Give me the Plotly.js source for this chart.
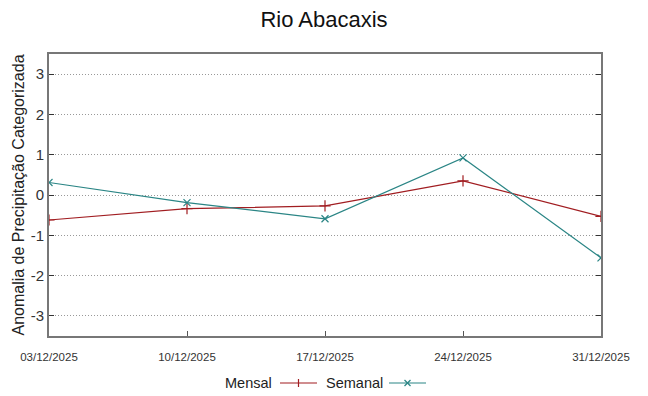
<!DOCTYPE html>
<html>
<head>
<meta charset="utf-8">
<script src="https://cdn.plot.ly/plotly-3.0.1.min.js"></script>
<style>html,body{margin:0;padding:0;background:#fff;}#chart{width:648px;height:396px;}</style>
</head>
<body>
<div id="chart"></div>
<script>
const dates = ["2025-12-03", "2025-12-10", "2025-12-17", "2025-12-24", "2025-12-31"];
const mensal = [-0.62, -0.34, -0.27, 0.35, -0.53];
const semanal = [0.31, -0.19, -0.59, 0.92, -1.56];
const yTicks = [-3, -2, -1, 0, 1, 2, 3];
const yTickText = ["-3", "-2", "-1", "0", "1", "2", "3"];
const seriesNames = ["Mensal", "Semanal"];
const colors = ["#a11d21", "#2a8585"];

const font = "Liberation Sans, Arial, sans-serif";
const traces = [
  {x: dates, y: mensal, name: seriesNames[0], type: "scatter", mode: "lines+markers",
   line: {color: colors[0], width: 1.2},
   marker: {symbol: "cross-thin", size: 8, line: {color: colors[0], width: 1.2}, color: colors[0]},
   showlegend: false},
  {x: dates, y: semanal, name: seriesNames[1], type: "scatter", mode: "lines+markers",
   line: {color: colors[1], width: 1.2},
   marker: {symbol: "x-thin", size: 7, line: {color: colors[1], width: 1.2}, color: colors[1]},
   showlegend: false}
];

const L = 49, R = 601, T = 54, B = 336;
const px = v => (v - L) / (R - L);
const py = v => (B - v) / (B - T);
const legY = py(383);

const shapes = [
  {type: "line", xref: "paper", yref: "paper", x0: px(280), x1: px(317), y0: legY, y1: legY, line: {color: colors[0], width: 1.2}},
  {type: "line", xref: "paper", yref: "paper", x0: px(298.5), x1: px(298.5), y0: py(379), y1: py(387), line: {color: colors[0], width: 1.2}},
  {type: "line", xref: "paper", yref: "paper", x0: px(389), x1: px(426), y0: legY, y1: legY, line: {color: colors[1], width: 1.2}},
  {type: "line", xref: "paper", yref: "paper", x0: px(404.5), x1: px(410.5), y0: py(380), y1: py(386), line: {color: colors[1], width: 1.2}},
  {type: "line", xref: "paper", yref: "paper", x0: px(404.5), x1: px(410.5), y0: py(386), y1: py(380), line: {color: colors[1], width: 1.2}}
];

const annotations = [
  {xref: "paper", yref: "paper", x: px(274), y: legY, text: seriesNames[0], showarrow: false, xanchor: "right", yanchor: "middle", font: {family: font, size: 14.5, color: "#222"}},
  {xref: "paper", yref: "paper", x: px(324), y: legY, text: seriesNames[1], showarrow: false, xanchor: "left", yanchor: "middle", font: {family: font, size: 14.5, color: "#222"}}
];

const layout = {
  width: 648, height: 396,
  margin: {l: L, r: 648 - R, t: T, b: 396 - B, pad: 0},
  paper_bgcolor: "#fff", plot_bgcolor: "#fff",
  font: {family: font, color: "#222"},
  title: {text: "Rio Abacaxis", x: 0.5, xanchor: "center", y: 1 - 19 / 396, yanchor: "middle", font: {family: font, size: 22, color: "#111"}},
  showlegend: false,
  xaxis: {
    type: "date",
    range: [dates[0], dates[dates.length - 1]],
    tickvals: dates,
    tickformat: "%d/%m/%Y",
    tickfont: {family: font, size: 11.5, color: "#333"},
    ticklabelstandoff: 9,
    showgrid: false, zeroline: false,
    showline: true, linecolor: "#777", linewidth: 2, mirror: true,
    ticks: "inside", ticklen: 5, tickcolor: "#555"
  },
  yaxis: {
    range: [-3.5, 3.5],
    tickvals: yTicks,
    ticktext: yTickText,
    tickfont: {family: font, size: 15, color: "#333"},
    showgrid: true, gridcolor: "#999", griddash: "1px,2px", gridwidth: 1,
    zeroline: false,
    showline: true, linecolor: "#777", linewidth: 2, mirror: "ticks",
    ticks: "inside", ticklen: 5, tickcolor: "#333",
    title: {text: "Anomalia de Precipitação Categorizada", font: {family: font, size: 16, color: "#222"}, standoff: 2}
  },
  shapes: shapes,
  annotations: annotations
};

Plotly.newPlot("chart", traces, layout, {displayModeBar: false, staticPlot: true});
</script>
</body>
</html>
